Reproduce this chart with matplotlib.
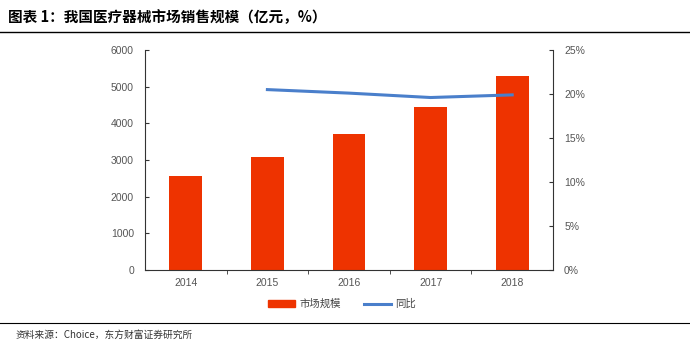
import matplotlib
matplotlib.use("Agg")
import matplotlib.pyplot as plt
from matplotlib.lines import Line2D
from matplotlib.ticker import FuncFormatter

plt.rcParams['font.family'] = ['Noto Sans CJK SC', 'DejaVu Sans']

# data
years = ["2014", "2015", "2016", "2017", "2018"]
market_size = [2556, 3080, 3700, 4450, 5304]       # 亿元
yoy_years = ["2015", "2016", "2017", "2018"]
yoy = [20.5, 20.1, 19.6, 19.9]                     # %

bar_color = "#EE3300"
line_color = "#4A7FCB"
tick_color = "#555555"

fig = plt.figure(figsize=(6.9, 3.52), dpi=100)
ax = fig.add_axes([145 / 690, 1 - 270 / 352, 408 / 690, 220 / 352])

x = list(range(len(years)))
ax.bar(x, market_size, width=0.4, color=bar_color, zorder=2)
ax.set_xlim(-0.5, len(years) - 0.5)
ax.set_ylim(0, 6000)
ax.set_yticks(range(0, 6001, 1000))
ax.set_xticks(x)
ax.set_xticklabels(years)
ax.set_xticks([i + 0.5 for i in x[:-1]], minor=True)
ax.tick_params(axis='x', which='major', length=0, pad=6)
ax.tick_params(axis='x', which='minor', length=3, direction='out', color='#333333')
ax.tick_params(axis='y', length=3, direction='in', color='#333333', pad=8)
ax.tick_params(labelsize=7.5, labelcolor=tick_color)
for lbl in ax.get_xticklabels() + ax.get_yticklabels():
    lbl.set_family(['Liberation Sans', 'DejaVu Sans'])
ax.spines['top'].set_visible(False)
ax.spines['right'].set_visible(False)
ax.spines['left'].set_color('#333333')
ax.spines['bottom'].set_color('#333333')

ax2 = ax.twinx()
xi = [years.index(y) for y in yoy_years]
ax2.plot(xi, yoy, color=line_color, linewidth=2.2, zorder=3)
ax2.set_ylim(0, 25)
ax2.set_yticks(range(0, 26, 5))
ax2.yaxis.set_major_formatter(FuncFormatter(lambda v, p: f"{int(v)}%"))
ax2.tick_params(axis='y', length=3, direction='in', color='#333333',
                labelsize=7.5, labelcolor=tick_color, pad=8)
for lbl in ax2.get_yticklabels():
    lbl.set_family(['Liberation Sans', 'DejaVu Sans'])
ax2.spines['top'].set_visible(False)
ax2.spines['left'].set_visible(False)
ax2.spines['bottom'].set_visible(False)
ax2.spines['right'].set_color('#333333')

# legend
handles = [plt.Rectangle((0, 0), 1, 1, color=bar_color),
           Line2D([0], [0], color=line_color, linewidth=2.2)]
fig.legend(handles, ["市场规模", "同比"], loc='center', ncol=2,
           bbox_to_anchor=(342 / 690, 1 - 304 / 352), frameon=False,
           fontsize=7.5, handlelength=2.6, handleheight=0.6, handletextpad=0.4,
           columnspacing=2.2, labelcolor='#444444')

# title and footer
fig.text(8 / 690, 1 - 17 / 352, "图表 1：我国医疗器械市场销售规模（亿元，%）",
         fontsize=10.5, fontweight='heavy', va='center', ha='left')
fig.add_artist(Line2D([0, 1], [1 - 32 / 352] * 2, color='black', linewidth=1))
fig.add_artist(Line2D([0, 1], [1 - 323 / 352] * 2, color='black', linewidth=0.8))
fig.text(16 / 690, 1 - 335 / 352, "资料来源：Choice，东方财富证券研究所",
         fontsize=7, va='center', ha='left', color='#333333')

fig.savefig("out.png", dpi=100)
